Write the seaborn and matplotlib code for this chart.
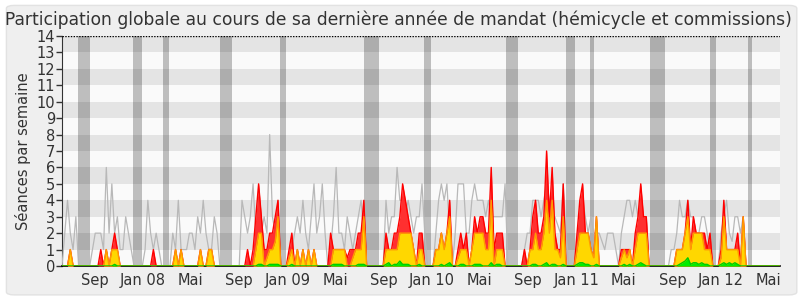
import matplotlib
matplotlib.use('Agg')
import matplotlib.pyplot as plt
from matplotlib.patches import FancyBboxPatch
import seaborn as sns
import pandas as pd

# semaines depuis le debut de la legislature
debut = '2007-06-11'

# mediane des deputes (ligne grise)
mediane = [0,2,4,2,1,3,0,0,0,0, 0,1,2,2,2,1,6,2,5,2,
           3,1,1,3,2,1,0,0,0,0, 1,4,2,1,2,1,0,0,0,0,
           2,1,4,1,1,1,2,2,1,3, 2,4,2,1,1,3,2,0,0,0,
           0,0,0,0,0,4,3,2,3,5, 2,3,2,3,2,8,3,2,4,0,
           0,0,0,1,2,3,2,4,2,1, 3,5,2,3,5,2,0,1,3,6,
           2,2,1,3,2,1,2,3,4,2, 0,0,0,0,0,0,0,4,2,3,
           3,6,4,4,3,4,3,2,3,3, 5,2,0,0,0,2,4,5,4,5,
           2,0,2,5,5,5,2,2,4,5, 4,4,4,3,4,3,3,3,3,3,
           5,0,0,0,0,0,0,1,2,2, 4,4,4,3,4,5,4,3,3,2.5,
           2,5,2,0,0,0,1,3,4,3, 2,3,2,2,2,1.5,1,2,2,2,
           1,0,2,3,4,4,3,4,3,4, 3,3,0,0,0,0,0,0,0,0,
           1,1,2,4,3,3,4,3,3,2, 2,3,3,2,1,0,0,0,2,3,
           4,2,1.5,3,3,2,3,0,0,0, 0,0,0,0,0,0,0,0,0,0]

# presences (rouge)
presences = [0,0,0,1,0,0,0,0,0,0, 0,0,0,0,1,0,1,0,1,2,
             1,0,0,0,0,0,0,0,0,0, 0,0,0,1,0,0,0,0,0,0,
             0,1,0,1,0,0,0,0,0,0, 1,0,0,1,1,0,0,0,0,0,
             0,0,0,0,0,0,0,1,0,1, 3,5,3,1,1,2,2,3,4,0,
             0,0,1,2,0,1,0,1,0,1, 0,1,0,0,0,0,0,2,1,1,
             1,1,1,0.5,1,1,1,2,2,4, 0,0,0,0,0,0,0,2,1,1,
             2,2,3,5,4,3,2,1,0,2, 2,0,0,0,0,1,1,2,1,2,
             4,0,0,1,2,1,2,0,1,3, 2,3,3,2,2,6,1,2,2,2,
             0,0,0,0,0,0,0,1,0,1, 3,4,2,2,3,7,3,6,2,1,
             1,5,0,0,0,0,2,4,5,2, 2,1,0.5,3,0,0,0,0,0,0,
             0,0,1,1,1,1,0,2,3,5, 3,3,0,0,0,0,0,0,0,0,
             0,0,1,1,1,2,4,1,3,2, 2,2,2,1,2,0,0,0,1,4,
             1,1,1,1,2,0,3,0,0,0, 0,0,0,0,0,0,0,0,0,0]

# participations (jaune)
participations = [0,0,0,1,0,0,0,0,0,0, 0,0,0,0,0,0,1,0,1,1,
                  1,0,0,0,0,0,0,0,0,0, 0,0,0,0,0,0,0,0,0,0,
                  0,1,0,1,0,0,0,0,0,0, 1,0,0,1,1,0,0,0,0,0,
                  0,0,0,0,0,0,0,0,0,0, 1,2,2,0,0.5,1,1,1.5,3,0,
                  0,0,0.5,1,0,1,0,1,0,1, 0,1,0,0,0,0,0,0,1,1,
                  1,1,1,0,0,0.5,1,1,1,3, 0,0,0,0,0,0,0,1,1,1,
                  1,1,2,2,2,2,2,1,0,1, 1,0,0,0,0,1,1,2,1,2,
                  3,0,0,0.5,1,1,1,0,1,2, 2,2,2,1,1,4,0,1,1,1,
                  0,0,0,0,0,0,0,0,0,1, 1,2,1,1,2,4,2,4,1,1,
                  0.5,3,0,0,0,0,1,2,2,2, 2,1,0.5,3,0,0,0,0,0,0,
                  0,0,0.5,1,0.5,1,0,1,2,2, 2,2,0,0,0,0,0,0,0,0,
                  0,0,1,1,1,2,3,1,2,2, 2,2,1,1,1,0,0,0,0.5,3,
                  1,1,1,1,1,0,3,0,0,0, 0,0,0,0,0,0,0,0,0,0]

# interventions (vert)
interventions = [0,0,0,0,0,0,0,0,0,0, 0,0,0,0,0,0,0,0,0,0.1,
                 0,0,0,0,0,0,0,0,0,0, 0,0,0,0,0,0,0,0,0,0,
                 0,0,0,0,0,0,0,0,0,0, 0,0,0,0,0,0,0,0,0,0,
                 0,0,0,0,0,0,0,0,0,0, 0,0.1,0.1,0,0,0.1,0.1,0.1,0.1,0,
                 0,0,0,0.1,0,0,0,0,0,0, 0,0,0,0,0,0,0,0,0.1,0.1,
                 0.1,0.1,0,0,0,0,0,0.1,0.1,0.1, 0,0,0,0,0,0,0,0.1,0.2,0,
                 0.1,0.1,0.3,0.1,0.1,0.1,0,0,0,0.1, 0,0,0,0,0,0,0,0.1,0,0.1,
                 0.2,0,0,0,0.1,0.1,0,0,0,0.1, 0.1,0.1,0,0,0,0.2,0,0.1,0.1,0,
                 0,0,0,0,0,0,0,0,0,0, 0.1,0.1,0,0,0.1,0.2,0,0.1,0.1,0,
                 0,0.1,0,0,0,0,0.1,0.2,0.2,0.1, 0.1,0,0,0.1,0,0,0,0,0,0,
                 0,0,0,0.1,0,0.1,0,0,0.1,0.2, 0.1,0,0,0,0,0,0,0,0,0,
                 0,0,0,0.1,0.2,0.3,0.5,0.1,0.2,0.2, 0.1,0.2,0.1,0.1,0,0,0,0,0.1,0.2,
                 0.1,0.2,0.1,0.2,0.1,0,0,0,0,0, 0,0,0,0,0,0,0,0,0,0]

# vacances parlementaires (bandes verticales)
vacances = [('2007-07-21', '2007-08-21'), ('2007-12-08', '2007-12-30'),
            ('2008-02-21', '2008-03-07'), ('2008-07-14', '2008-08-14'),
            ('2008-12-13', '2008-12-28'), ('2009-07-13', '2009-08-20'),
            ('2009-12-12', '2009-12-30'), ('2010-07-07', '2010-08-07'),
            ('2010-12-06', '2010-12-29'), ('2011-02-05', '2011-02-15'),
            ('2011-07-07', '2011-08-13'), ('2011-12-05', '2011-12-20'),
            ('2012-03-10', '2012-03-20')]

mois = ['2007-09-01', '2008-01-01', '2008-05-01', '2008-09-01', '2009-01-01',
        '2009-05-01', '2009-09-01', '2010-01-01', '2010-05-01', '2010-09-01',
        '2011-01-01', '2011-05-01', '2011-09-01', '2012-01-01', '2012-05-01']
mois_labels = ['Sep', 'Jan 08', 'Mai', 'Sep', 'Jan 09', 'Mai', 'Sep', 'Jan 10',
               'Mai', 'Sep', 'Jan 11', 'Mai', 'Sep', 'Jan 12', 'Mai']

titre = 'Participation globale au cours de sa dernière année de mandat (hémicycle et commissions)'

sns.set_style('white')
plt.rcParams['font.family'] = ['DejaVu Sans']

df = pd.DataFrame({
    'semaine': pd.date_range(debut, periods=len(presences), freq='7D'),
    'mediane': mediane,
    'presences': presences,
    'participations': participations,
    'interventions': interventions,
})

fig = plt.figure(figsize=(8, 3), dpi=100)
fig.patch.set_facecolor('white')
cadre = FancyBboxPatch((0.008, 0.017), 0.988, 0.965,
                       boxstyle='round,pad=0,rounding_size=0.01',
                       transform=fig.transFigure, facecolor='#efefef',
                       edgecolor='#e2e2e2', lw=1, zorder=-10)
fig.add_artist(cadre)

ax = fig.add_axes([0.0775, 0.1133, 0.8975, 0.7667])
ax.set_zorder(1)
ax.set_facecolor('#fafafa')

for d0, d1 in vacances:
    ax.axvspan(pd.Timestamp(d0), pd.Timestamp(d1), color='#bebebe', lw=0, zorder=1)
for k in range(1, 14, 2):
    ax.axhspan(k, k + 1, color='black', alpha=0.085, lw=0, zorder=2)

sns.lineplot(data=df, x='semaine', y='mediane', color='#b8b8b8', lw=0.9, ax=ax, zorder=3)

ax.fill_between(df['semaine'], df['presences'], color='#ff3030', lw=0, zorder=4)
sns.lineplot(data=df, x='semaine', y='presences', color='#ff0000', lw=1, ax=ax, zorder=4)
ax.fill_between(df['semaine'], df['participations'], color='#ffd700', lw=0, zorder=5)
sns.lineplot(data=df, x='semaine', y='participations', color='#ff9a00', lw=1, ax=ax, zorder=5)
ax.fill_between(df['semaine'], df['interventions'], color='#00ee00', lw=0, zorder=6)
sns.lineplot(data=df, x='semaine', y='interventions', color='#00cc00', lw=1, ax=ax, zorder=6)

ax.axhline(14, color='black', ls=(0, (1, 1)), lw=1, zorder=7)

ax.set_xlim(pd.Timestamp(debut), pd.Timestamp('2012-05-30'))
ax.set_ylim(0, 14)
ax.set_yticks(range(0, 15))
ax.set_xticks([pd.Timestamp(m) for m in mois])
ax.set_xticklabels(mois_labels)
ax.tick_params(axis='y', length=4, width=1, color='#333333', labelsize=10.5,
               labelcolor='#333333', pad=1, left=True)
ax.tick_params(axis='x', length=0, labelsize=10.5, labelcolor='#333333', pad=5)

ax.set_xlabel('')
ax.set_ylabel('Séances par semaine', fontsize=10.5, color='#333333', labelpad=4)
fig.text(0.4975, 0.916, titre, fontsize=12.3, color='#333333',
         ha='center', va='baseline')

for s in ['top', 'right']:
    ax.spines[s].set_visible(False)
ax.spines['left'].set_color('#333333')
ax.spines['bottom'].set_color('black')
ax.spines['bottom'].set_linewidth(1.2)

fig.savefig('out.png', dpi=100)
